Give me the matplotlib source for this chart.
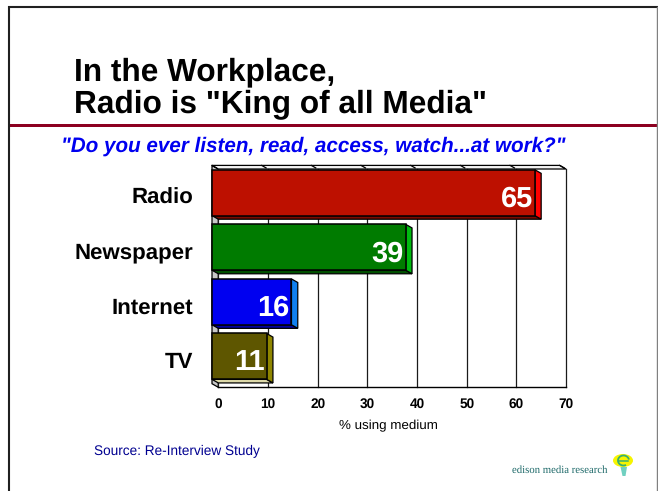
import matplotlib
matplotlib.use("Agg")
import matplotlib.pyplot as plt
from matplotlib.patches import Polygon, Rectangle, Ellipse, Arc

W, H = 658, 491

media = ["Radio", "Newspaper", "Internet", "TV"]
share = [65, 39, 16, 11]
front_colors = ["#bd1000", "#007b00", "#0000f0", "#5e5600"]
side_colors = ["#ff0000", "#00bb10", "#1080f0", "#8f8600"]
under_colors = ["#7a0a00", "#004f00", "#0000a0", "#dcd8a8"]
x_ticks = [0, 10, 20, 30, 40, 50, 60, 70]

plt.rcParams["font.family"] = ["Liberation Sans", "DejaVu Sans"]
plt.rcParams["text.hinting"] = "none"
plt.rcParams["text.hinting_factor"] = 8
fig = plt.figure(figsize=(W / 100, H / 100), dpi=100, facecolor="white")


def px(size):
    """Font size in points for a height given in pixels."""
    return size * 72 / 100


def box(left, top, right, bottom):
    return [left / W, 1 - bottom / H, (right - left) / W, (bottom - top) / H]


# Slide furniture lives on a full-figure pixel canvas
page = fig.add_axes([0, 0, 1, 1], zorder=0)
page.set_xlim(0, W)
page.set_ylim(H, 0)
page.axis("off")
page.plot([8.5, 8.5, 657], [H, 6.5, 6.5], color="#202020", lw=1.5,
          solid_joinstyle="miter")
page.plot([657, 657], [6.5, H], color="#808080", lw=1.0)
page.add_patch(Rectangle((10, 124), 647, 3, color="#8c0020", lw=0))
page.text(74, 80, "In the Workplace,", fontsize=px(31.6), fontweight="bold",
          color="black")
page.text(74, 112.5, 'Radio is "King of all Media"', fontsize=px(31.6),
          fontweight="bold", color="black")
page.text(61, 152, '"Do you ever listen, read, access, watch...at work?"',
          fontsize=px(20.7), fontweight="bold", fontstyle="italic",
          color="#0000f0")
page.text(94, 455, "Source: Re-Interview Study", fontsize=px(13.6),
          color="#000090")
page.text(512, 472.7, "edison media research", fontsize=px(10.8),
          family="Liberation Serif", color="#1f6a6a")

# Bulb emblem next to the company name
page.add_patch(Ellipse((623, 460.5), 20, 13, color="#f6f400", lw=0))
page.add_patch(Polygon([(620.5, 467), (627, 467), (625.5, 476), (622.5, 476)],
                       closed=True, color="#70d0c0", lw=0))
page.add_patch(Arc((623.5, 460.5), 11, 10, theta1=-300, theta2=-10,
                   ec="#38b070", lw=1.3))
page.plot([618.5, 628], [460.5, 460.5], color="#38b070", lw=1.1)

# The axes box is the back wall of the 3-D chart
ax = fig.add_axes(box(218.3, 169, 566, 387.3), zorder=1)
ax.set_xlim(0, 70)
ax.set_ylim(3.5, -0.5)
ax.patch.set_alpha(0)
for side in ("top", "left", "right"):
    ax.spines[side].set_visible(False)
ax.spines["bottom"].set_linewidth(1.0)

# Depth of the extrusion in data units: front plane sits up and to the left
dx = 6.3 / (347.7 / 70)
dy = 3.6 / (218.3 / 4)
bar_h = 0.84

ax.set_xticks(x_ticks)
ax.set_xticklabels([str(t) for t in x_ticks], fontsize=px(13.6),
                   fontweight="bold")
ax.tick_params(axis="x", length=0, pad=7.5)
ax.set_yticks(range(len(media)))
ax.set_yticklabels(media, fontsize=px(22.3), fontweight="bold")
ax.tick_params(axis="y", length=0, pad=18)
ax.set_xlabel("% using medium", fontsize=px(13.4), labelpad=6.5)
ax.xaxis.label.set_x(0.49)

ymin, ymax = -0.5, 3.5
# Left wall and ceiling plate
ax.add_patch(Polygon([(-dx, ymin - dy), (0, ymin), (0, ymax), (-dx, ymax - dy)],
                     closed=True, fc="#c8c8c8", ec="black", lw=0.9,
                     clip_on=False, zorder=1))
ax.add_patch(Polygon([(-dx, ymin - dy), (70 - dx, ymin - dy), (70, ymin), (0, ymin)],
                     closed=True, fc="#f4f4f4", ec="black", lw=0.9,
                     clip_on=False, zorder=1))
for t in x_ticks:
    ax.plot([t, t], [ymin, ymax], color="#1a1a1a", lw=0.9, clip_on=False, zorder=1.5)
    ax.plot([t - dx, t - dx * 0.3], [ymin - dy, ymin - dy * 0.3], color="black", lw=0.9,
            clip_on=False, zorder=1.5)

# Extruded bars: underside, end cap, then the front face
for i, (name, value) in enumerate(zip(media, share)):
    top, bot = i - bar_h / 2 - dy, i + bar_h / 2 - dy
    right = value - dx
    ax.add_patch(Polygon([(-dx, bot), (right, bot), (value, bot + dy), (0, bot + dy)],
                         closed=True, fc=under_colors[i], ec="black", lw=0.9,
                         clip_on=False, zorder=2))
    ax.add_patch(Polygon([(right, top), (value, top + dy), (value, bot + dy), (right, bot)],
                         closed=True, fc=side_colors[i], ec="black", lw=0.9,
                         clip_on=False, zorder=2))
    ax.add_patch(Rectangle((-dx, top), value, bar_h, fc=front_colors[i],
                           ec="black", lw=1.1, clip_on=False, zorder=3))
    ax.text(right - 0.4, i - dy + 0.12, str(value), ha="right", va="center",
            color="white", fontsize=px(29), fontweight="bold", zorder=4)

fig.savefig("out.png", dpi=100, facecolor="white")
